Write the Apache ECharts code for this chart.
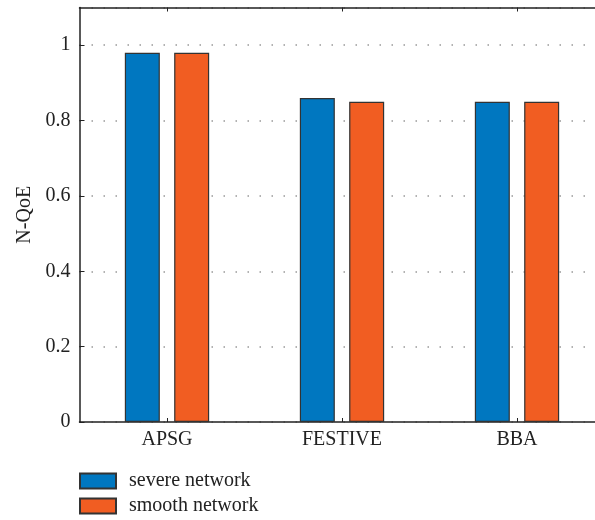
<!DOCTYPE html>
<html><head><meta charset="utf-8">
<script src="https://cdn.jsdelivr.net/npm/echarts@6/dist/echarts.min.js"></script>
<style>html,body{margin:0;padding:0;background:#fff;overflow:hidden;width:595px;height:520px}#c{width:612px;height:520px}</style>
</head><body><div id="c"></div>
<script>
const categories = ['APSG', 'FESTIVE', 'BBA'];
const severeNetwork = [0.98, 0.86, 0.85];
const smoothNetwork = [0.98, 0.85, 0.85];
const yTicks = [0, 0.2, 0.4, 0.6, 0.8, 1];
const seriesNames = ['severe network', 'smooth network'];

const font = 'Liberation Serif';
const legendBase = {
  left: 79, padding: 0, orient: 'vertical', itemWidth: 36, itemHeight: 15,
  icon: 'rect',
  textStyle: { fontFamily: font, fontSize: 20, color: '#222', padding: [0, 0, 0, 8] }
};
const chart = echarts.init(document.getElementById('c'));
chart.setOption({
  animation: false,
  backgroundColor: '#fff',
  grid: { left: 79.5, top: 7.5, width: 525, height: 414.5, containLabel: false },
  legend: [
    Object.assign({}, legendBase, { top: 471, data: [seriesNames[0]] }),
    Object.assign({}, legendBase, { top: 496, data: [seriesNames[1]] })
  ],
  xAxis: [{
    type: 'category', data: categories, position: 'bottom',
    axisLine: { lineStyle: { color: '#222', width: 1.5 } },
    axisTick: { show: true, alignWithLabel: true, inside: true, length: 4, lineStyle: { color: '#222' } },
    axisLabel: { fontFamily: font, fontSize: 20, color: '#222', margin: 8 },
    splitLine: { show: false }
  }, {
    type: 'category', data: categories, position: 'top',
    axisLine: { lineStyle: { color: '#222', width: 1.5 } },
    axisTick: { show: true, alignWithLabel: true, inside: true, length: 4, lineStyle: { color: '#222' } },
    axisLabel: { show: false },
    splitLine: { show: false }
  }],
  yAxis: {
    type: 'value', min: 0, max: 1.1, interval: 0.2,
    name: 'N-QoE', nameLocation: 'middle', nameGap: 44, nameRotate: 90,
    nameTextStyle: { fontFamily: font, fontSize: 20, color: '#222' },
    axisLine: { show: true, lineStyle: { color: '#222', width: 1.5 } },
    axisTick: { show: true, inside: true, length: 5, lineStyle: { color: '#222' } },
    axisLabel: {
      fontFamily: font, fontSize: 20, color: '#222', margin: 9,
      showMaxLabel: false,
      formatter: v => (yTicks.some(t => Math.abs(t - v) < 1e-9) ? String(+v.toFixed(1)) : '')
    },
    splitLine: { show: true, lineStyle: { color: '#999', type: [1.5, 10.5], width: 1.5 } }
  },
  series: [{
    name: seriesNames[0], type: 'bar', data: severeNetwork, barWidth: 35, barGap: '41%',
    itemStyle: { color: '#0077C0', borderColor: '#333', borderWidth: 1.2 }
  }, {
    name: seriesNames[1], type: 'bar', data: smoothNetwork, barWidth: 35, barGap: '41%',
    itemStyle: { color: '#F15D22', borderColor: '#333', borderWidth: 1.2 }
  }]
});
</script></body></html>
